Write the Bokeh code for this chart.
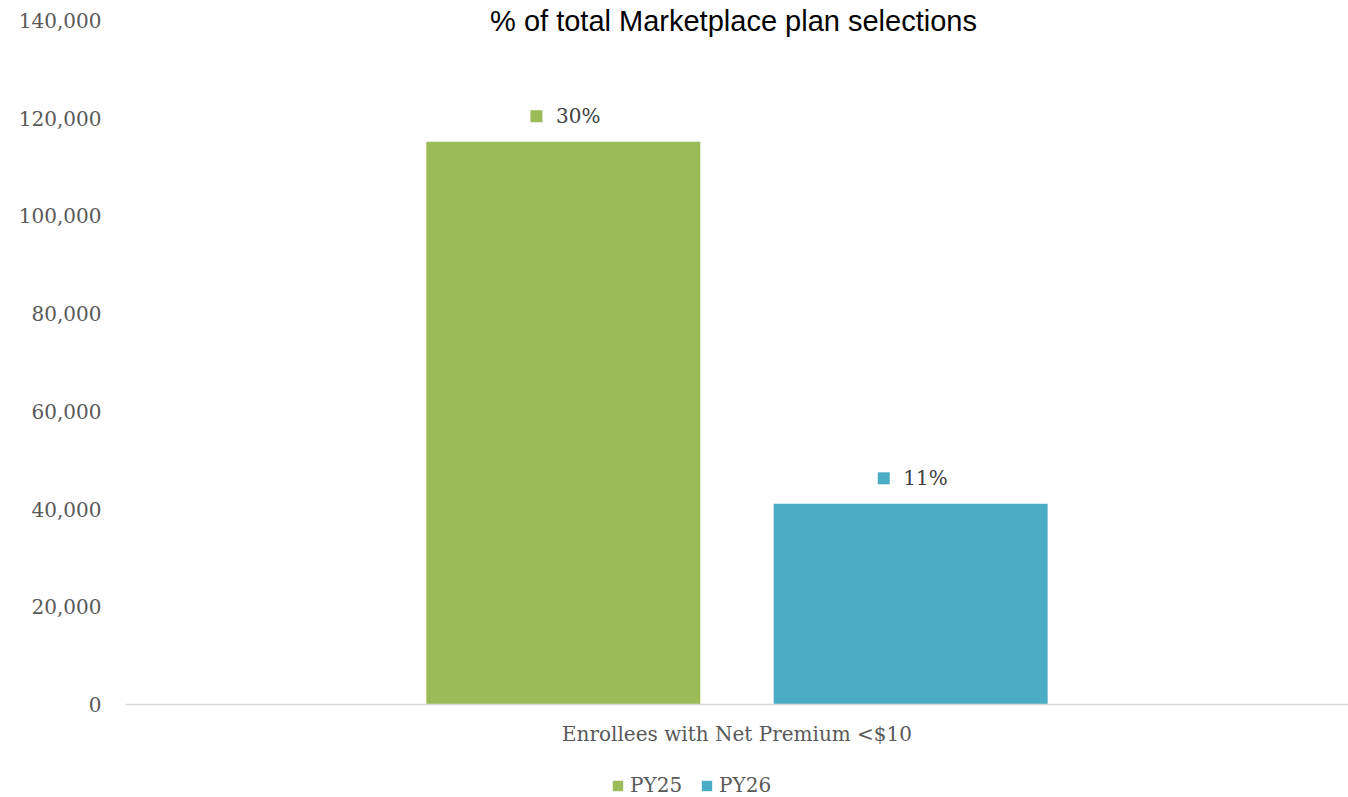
from bokeh.plotting import figure
from bokeh.models import ColumnDataSource, FactorRange, Range1d, Legend, LegendItem, Label, FixedTicker, NumeralTickFormatter, Span
from bokeh.transform import dodge
from bokeh.core.properties import value
from bokeh.embed import file_html
from bokeh.resources import INLINE

category = ["Enrollees with Net Premium <$10"]
series = ["PY25", "PY26"]
enrollees = [115200, 41100]
pct_labels = ["30%", "11%"]
colors = ["#9BBB59", "#4BACC6"]
y_ticks = [0, 20000, 40000, 60000, 80000, 100000, 120000, 140000]
title_text = "% of total Marketplace plan selections"

SERIF = "DejaVu Serif"
FS = "20px"

p = figure(width=1348, height=797, output_backend="svg", toolbar_location=None,
           x_range=FactorRange(factors=category, range_padding=0),
           y_range=Range1d(-19035, 144094),
           min_border_left=125, min_border_right=0, min_border_top=0, min_border_bottom=0,
           outline_line_color=None, x_axis_location=None)

offsets = [-0.142, 0.142]
renderers = []
for i, s in enumerate(series):
    src = ColumnDataSource(dict(x=category, y=[enrollees[i]], lab=[pct_labels[i]],
                                ly=[enrollees[i] + 5200]))
    r = p.vbar(x=dodge("x", offsets[i], range=p.x_range), top="y", width=0.224,
               source=src, fill_color=colors[i], line_color=None)
    renderers.append(r)
    p.scatter(x=dodge("x", offsets[i] - 0.022, range=p.x_range), y="ly", source=src,
              marker="square", size=12, fill_color=colors[i], line_color=None)
    p.text(x=dodge("x", offsets[i] - 0.006, range=p.x_range), y="ly", text="lab", source=src,
           text_font=value(SERIF), text_font_size=FS, text_color="#404040",
           text_baseline="middle", text_align="left")

# category axis: baseline and label
p.add_layout(Span(location=0, dimension="width", line_color="#D9D9D9", line_width=1.5))
csrc = ColumnDataSource(dict(x=category, y=[0]))
p.text(x="x", y="y", text="x", source=csrc, y_offset=29,
       text_font=value(SERIF), text_font_size=FS, text_color="#595959",
       text_baseline="middle", text_align="center")

p.yaxis.ticker = FixedTicker(ticks=y_ticks)
p.yaxis.formatter = NumeralTickFormatter(format="0,0")
p.yaxis.axis_line_color = None
p.yaxis.major_tick_line_color = None
p.yaxis.minor_tick_line_color = None
p.yaxis.major_label_text_font = SERIF
p.yaxis.major_label_text_font_size = FS
p.yaxis.major_label_text_color = "#595959"
p.yaxis.major_label_standoff = 18

p.xgrid.grid_line_color = None
p.ygrid.grid_line_color = None

p.add_layout(Label(x=608, y=777, x_units="screen", y_units="screen", text=title_text,
                   text_font="Liberation Sans", text_font_size="29px", text_color="#000000",
                   text_align="center", text_baseline="middle"))

legend = Legend(items=[LegendItem(label=s, renderers=[r]) for s, r in zip(series, renderers)],
                orientation="horizontal", location=(486, 0),
                label_text_font=SERIF, label_text_font_size=FS, label_text_color="#595959",
                glyph_width=13, glyph_height=13, label_standoff=6, spacing=18,
                padding=0, margin=0, border_line_color=None, background_fill_alpha=0)
p.add_layout(legend, "center")

open("out.html", "w").write(file_html(p, INLINE))
